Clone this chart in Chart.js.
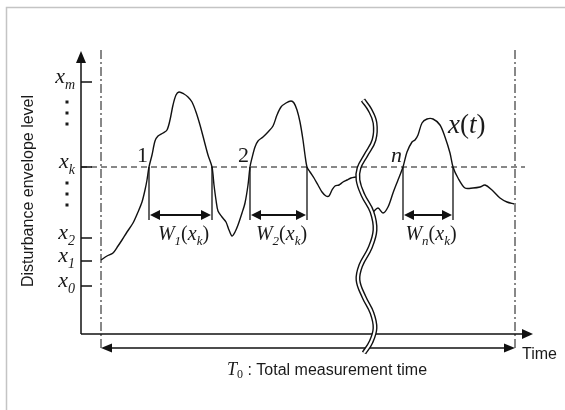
<!DOCTYPE html>
<html>
<head>
<meta charset="utf-8">
<script src="https://cdn.jsdelivr.net/npm/chart.js@4.4.1/dist/chart.umd.min.js"></script>
<style>
  html, body { margin: 0; padding: 0; background: #fff; }
  #wrap { width: 565px; height: 410px; position: relative; }
</style>
</head>
<body>
<div id="wrap"><canvas id="chart"></canvas></div>
<script>
// x(t) before the break (pulses 1 and 2)
const timeA = [2.0, 2.6, 3.2, 3.7, 4.1, 4.6, 5.2, 5.7, 6.1, 6.4, 6.6, 6.8, 7.1, 7.4, 7.7, 8.2, 8.6, 8.9, 9.2, 9.5,
  9.8, 10.3, 10.7, 11.1, 11.5, 11.9, 12.3, 12.7, 13.1, 13.3, 13.5, 13.7, 14.1, 14.5, 14.8, 15.1, 15.4, 15.7, 16.1,
  16.4, 16.7, 16.9, 17.1, 17.4, 17.7, 18.2, 18.7, 19.2, 19.6, 20.0, 20.5, 21.0, 21.3, 21.6, 21.9, 22.2, 22.4, 22.6,
  22.9, 23.3, 23.7, 24.1, 24.5, 24.8, 25.1, 25.4, 25.8, 26.2, 26.6, 27.0, 27.5]
const levelA = [7.4, 7.8, 8.1, 8.8, 9.4, 10.2, 11.1, 12.2, 13.2, 14.4, 15.4, 16.7, 17.9, 19.3, 19.8, 20.1, 20.4, 21.4, 22.9, 23.9,
  24.2, 24.0, 23.7, 23.2, 22.2, 20.9, 19.4, 17.9, 16.7, 14.9, 13.4, 12.3, 11.7, 11.2, 10.4, 9.8, 10.2, 10.9, 12.1,
  13.1, 14.9, 16.7, 17.6, 18.7, 19.3, 19.7, 20.2, 20.8, 21.9, 22.7, 23.1, 23.3, 23.1, 22.4, 21.2, 19.4, 17.9, 16.7,
  16.2, 15.6, 14.9, 14.2, 13.8, 13.8, 14.4, 14.8, 14.9, 15.2, 15.4, 15.6, 15.7]

// x(t) after the break (pulse n)
const timeB = [29.2, 29.7, 30.2, 30.7, 31.2, 31.7, 32.2, 32.6, 33.1, 33.4, 33.7, 34.1, 34.6, 35.2, 35.9, 36.4, 36.9,
  37.2, 37.7, 38.4, 39.2, 39.9, 40.4, 41.1, 41.9, 42.6, 43.3]
const levelB = [12.2, 12.6, 12.1, 12.7, 14.1, 15.4, 16.7, 18.2, 19.2, 19.4, 19.9, 21.1, 21.5, 21.5, 20.9, 19.7, 18.1,
  16.7, 15.6, 14.6, 14.6, 14.7, 14.9, 14.4, 13.6, 13.2, 13.0]

// break mark cutting the time axis
const breakTime = [28.2, 28.9, 29.4, 29.3, 28.5, 27.8, 27.7, 28.2, 29.1, 29.4, 28.9, 28.0, 27.7, 28.3, 29.1, 29.4, 29.0, 28.3]
const breakLevel = [23.4, 22.4, 21.1, 19.4, 17.9, 16.6, 15.4, 13.9, 12.2, 10.4, 8.6, 6.9, 5.4, 3.7, 2.1, 0.6, -0.8, -1.9]

// levels marked on the vertical axis
const tickLevels = [4.8, 7.3, 9.6, 16.7, 25.2]
const tickSubs = ['0', '1', '2', 'k', 'm']
const thresholdLevel = 16.7 // x_k
// the "..." between marked levels
const gapLevels = [23.2, 22.1, 21.0, 15.1, 14.0, 12.9]

// where x(t) crosses x_k, one pair per pulse
const pulseNames = ['1', '2', 'n']
const crossStart = [6.8, 16.9, 32.2]
const crossEnd = [13.1, 22.6, 37.2]

// measurement window and axis extents
const measureStart = 2.0
const measureEnd = 43.4
const axisTop = 28.3
const axisEnd = 45.2

const SERIF = '"Liberation Serif", "Times New Roman", serif'
const SANS = '"Liberation Sans", Arial, sans-serif'
const INK = '#111'

function toPoints(ts, ls) {
  return ts.map((t, i) => ({ x: t, y: ls[i] }))
}

function arrowHead(ctx, tx, ty, dx, dy, len, half) {
  const bx = tx - dx * len, by = ty - dy * len
  ctx.beginPath()
  ctx.moveTo(tx, ty)
  ctx.lineTo(bx - dy * half, by + dx * half)
  ctx.lineTo(bx + dy * half, by - dx * half)
  ctx.closePath()
  ctx.fill()
}

function line(ctx, x1, y1, x2, y2) {
  ctx.beginPath()
  ctx.moveTo(x1, y1)
  ctx.lineTo(x2, y2)
  ctx.stroke()
}

// parts: [text, font, dy]
function partsWidth(ctx, parts) {
  let w = 0
  parts.forEach(p => { ctx.font = p[1]; w += ctx.measureText(p[0]).width })
  return w
}
function drawParts(ctx, parts, x, y, align) {
  let cx = x
  const w = partsWidth(ctx, parts)
  if (align === 'center') cx = x - w / 2
  if (align === 'right') cx = x - w
  ctx.textAlign = 'left'
  ctx.textBaseline = 'alphabetic'
  parts.forEach(p => {
    ctx.font = p[1]
    ctx.fillText(p[0], cx, y + (p[2] || 0))
    cx += ctx.measureText(p[0]).width
  })
}

const diagram = {
  id: 'diagram',
  beforeDatasetsDraw(chart) {
    const { ctx, scales: { x, y } } = chart
    const X = v => x.getPixelForValue(v), Y = v => y.getPixelForValue(v)
    const x0 = X(0), y0 = Y(0)
    ctx.save()

    // frame
    ctx.strokeStyle = '#c4c4c4'
    ctx.lineWidth = 1.5
    ctx.beginPath()
    ctx.moveTo(6.5, 410); ctx.lineTo(6.5, 7.5); ctx.lineTo(565, 7.5)
    ctx.stroke()

    ctx.strokeStyle = INK
    ctx.fillStyle = INK

    // axes
    ctx.lineWidth = 1.5
    line(ctx, x0, y0, x0, Y(axisTop) + 8)
    line(ctx, x0, y0, X(axisEnd) - 8, y0)
    arrowHead(ctx, x0, Y(axisTop), 0, -1, 12, 5)
    arrowHead(ctx, X(axisEnd), y0, 1, 0, 11, 5)

    // ticks
    tickLevels.forEach(l => line(ctx, x0, Y(l), x0 + 11, Y(l)))

    // measurement window (dash-dot)
    const tArrowY = y0 + 14
    ctx.lineWidth = 1
    ctx.setLineDash([9, 3, 2, 3])
    line(ctx, X(measureStart), Y(axisTop) - 1, X(measureStart), tArrowY)
    line(ctx, X(measureEnd), Y(axisTop) - 1, X(measureEnd), tArrowY)

    // threshold x_k
    ctx.setLineDash([6, 4])
    line(ctx, x0, Y(thresholdLevel), X(axisEnd) - 8, Y(thresholdLevel))
    ctx.setLineDash([])

    // T0 arrow
    ctx.lineWidth = 1.5
    line(ctx, X(measureStart) + 8, tArrowY, X(measureEnd) - 8, tArrowY)
    arrowHead(ctx, X(measureStart), tArrowY, -1, 0, 11, 4.5)
    arrowHead(ctx, X(measureEnd), tArrowY, 1, 0, 11, 4.5)

    // width brackets
    const yk = Y(thresholdLevel)
    crossStart.forEach((s, i) => {
      const a = X(s), b = X(crossEnd[i])
      ctx.lineWidth = 1.3
      line(ctx, a, yk, a, yk + 53)
      line(ctx, b, yk, b, yk + 53)
      ctx.lineWidth = 2
      line(ctx, a + 8, yk + 48, b - 8, yk + 48)
      arrowHead(ctx, a + 1, yk + 48, -1, 0, 10, 5)
      arrowHead(ctx, b - 1, yk + 48, 1, 0, 10, 5)
    })
    ctx.restore()
  },
  afterDatasetsDraw(chart) {
    const { ctx, scales: { x, y } } = chart
    const X = v => x.getPixelForValue(v), Y = v => y.getPixelForValue(v)
    const x0 = X(0), y0 = Y(0), yk = Y(thresholdLevel)
    ctx.save()
    ctx.fillStyle = '#1a1a1a'

    const big = 'italic 22px ' + SERIF
    const sub = 'italic 14px ' + SERIF

    // tick labels
    tickLevels.forEach((l, i) => {
      drawParts(ctx, [['x', big, 0], [tickSubs[i], sub, 6]], x0 - 6, Y(l) + 1, 'right')
    })

    // vertical ellipses
    gapLevels.forEach(l => ctx.fillRect(x0 - 15.5, Y(l) - 1.5, 3, 3))

    // axis titles
    ctx.save()
    ctx.translate(29, Y(14.3))
    ctx.rotate(-Math.PI / 2)
    ctx.font = '16px ' + SANS
    ctx.textAlign = 'center'
    ctx.textBaseline = 'middle'
    ctx.fillText('Disturbance envelope level', 0, 0)
    ctx.restore()

    ctx.font = '16px ' + SANS
    ctx.textAlign = 'left'
    ctx.textBaseline = 'alphabetic'
    ctx.fillText('Time', X(axisEnd) - 11, y0 + 25)

    drawParts(ctx, [
      ['T', 'italic 18px ' + SERIF, 0],
      ['0', '12px ' + SERIF, 3],
      [' : Total measurement time', '16px ' + SANS, 0]
    ], (X(measureStart) + X(measureEnd)) / 2 + 19, y0 + 41, 'center')

    // pulse numbers
    pulseNames.forEach((n, i) => {
      const f = n === 'n' ? 'italic 22px ' + SERIF : '22px ' + SERIF
      drawParts(ctx, [[n, f, 0]], X(crossStart[i]) - 1, yk - 5, 'right')
    })

    // W labels
    const w = 'italic 20px ' + SERIF, wp = '20px ' + SERIF, ws = 'italic 13px ' + SERIF
    crossStart.forEach((s, i) => {
      const c = (X(s) + X(crossEnd[i])) / 2 + 3
      drawParts(ctx, [['W', w, 0], [pulseNames[i], ws, 5], ['(', wp, 0], ['x', w, 0], ['k', ws, 5], [')', wp, 0]],
        c, yk + 73, 'center')
    })

    // x(t)
    const xf = 'italic 27px ' + SERIF, pf = '27px ' + SERIF
    drawParts(ctx, [['x', xf, 0], ['(', pf, 0], ['t', xf, 0], [')', pf, 0]], X(36.7), Y(20.1), 'left')
    ctx.restore()
  }
}

const curveStyle = {
  borderColor: INK,
  borderWidth: 1.4,
  pointRadius: 0,
  fill: false,
  tension: 0.3,
  order: 2
}

new Chart(document.getElementById('chart').getContext('2d'), {
  type: 'line',
  data: {
    datasets: [
      { ...curveStyle, label: 'x(t)', data: toPoints(timeA, levelA) },
      { ...curveStyle, label: 'x(t) n', data: toPoints(timeB, levelB) },
      { label: 'break', data: toPoints(breakTime, breakLevel), borderColor: INK, borderWidth: 5,
        pointRadius: 0, tension: 0.4, clip: false, order: 1 },
      { label: 'break gap', data: toPoints(breakTime, breakLevel), borderColor: '#fff', borderWidth: 2.2,
        pointRadius: 0, tension: 0.4, clip: false, order: 0 }
    ]
  },
  options: {
    responsive: true,
    maintainAspectRatio: false,
    animation: false,
    layout: { padding: 0 },
    plugins: { legend: { display: false }, tooltip: { enabled: false } },
    scales: {
      x: { type: 'linear', min: -8.1, max: 48.4, display: false },
      y: { type: 'linear', min: -7.6, max: 33.4, display: false }
    }
  },
  plugins: [diagram]
})
</script>
</body>
</html>
